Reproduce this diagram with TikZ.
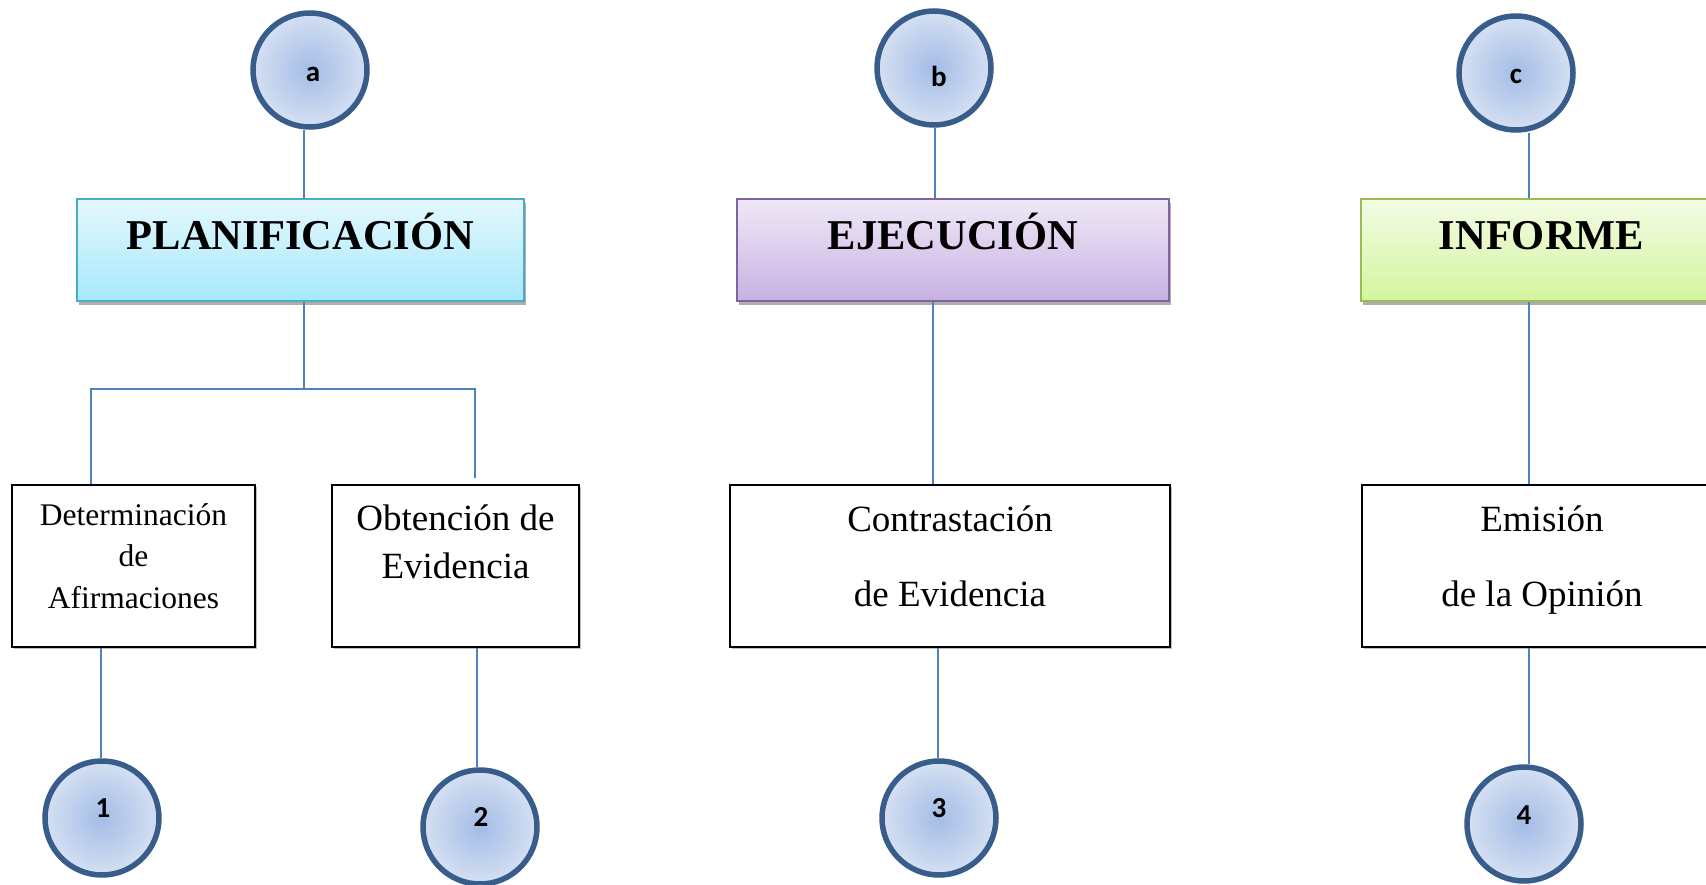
\documentclass[tikz,border=0pt]{standalone}
\usepackage{fontspec}
\setmainfont{Liberation Serif}
\newfontfamily\calfont{Carlito}
\usetikzlibrary{shadows}
\definecolor{conncol}{HTML}{4F81BD}
\definecolor{circborder}{HTML}{385D8A}
\definecolor{circin}{HTML}{A3BCE6}
\definecolor{circout}{HTML}{D5E0F2}
\definecolor{pltop}{HTML}{E4F8FD}
\definecolor{plbot}{HTML}{A6E8FB}
\definecolor{plborder}{HTML}{4BACC6}
\definecolor{ejtop}{HTML}{EFE8F7}
\definecolor{ejbot}{HTML}{C8B1E2}
\definecolor{ejborder}{HTML}{8064A2}
\definecolor{intop}{HTML}{F3FBE4}
\definecolor{inbot}{HTML}{D3F59E}
\definecolor{inborder}{HTML}{9BBB59}
\begin{document}
\begin{tikzpicture}[x=1pt,y=-1pt,
  conn/.style={draw=conncol, line width=2pt},
  circ/.style={circle, draw=circborder, line width=5.5pt, inner color=circin, outer color=circout, minimum size=114pt, inner sep=0pt},
  clabel/.style={font=\calfont\bfseries\fontsize{29}{29}\selectfont, inner sep=0pt, text=black},
  head/.style={rectangle, line width=1.5pt, minimum height=102pt, inner sep=0pt, text height=30pt, text depth=30pt,
    font=\bfseries\fontsize{42.5}{42.5}\selectfont,
    drop shadow={shadow xshift=2pt, shadow yshift=-4pt, fill=black!70, opacity=0.45}},
  lbox/.style={rectangle, draw=black, line width=1.2pt, fill=white, inner sep=0pt, minimum height=162pt,
    drop shadow={shadow xshift=1.5pt, shadow yshift=-1.5pt, fill=black!50, opacity=0.5}},
  ltext/.style={anchor=base, inner sep=0pt, font=\fontsize{37}{37}\selectfont},
  stext/.style={anchor=base, inner sep=0pt, font=\fontsize{31.5}{31.5}\selectfont},
]
\useasboundingbox (0,0) rectangle (1706,885);
\fill[white] (0,0) rectangle (1706,885);

% circles
\node[circ, label={[clabel,xshift=3pt,yshift=-4pt]center:a}] (a) at (310,70) {};
\node[circ, label={[clabel,xshift=5pt,yshift=-8pt]center:b}] (b) at (934,68) {};
\node[circ, label={[clabel,yshift=-3pt]center:c}] (c) at (1516,73) {};
\node[circ, label={[clabel,xshift=1pt,yshift=10pt]center:1}] (n1) at (102,818) {};
\node[circ, label={[clabel,xshift=1pt,yshift=10pt]center:2}] (n2) at (480,827) {};
\node[circ, label={[clabel,yshift=10pt]center:3}] (n3) at (939,818) {};
\node[circ, label={[clabel,yshift=9pt]center:4}] (n4) at (1524,824) {};

% headers
\node[head, draw=plborder, top color=pltop, bottom color=plbot, minimum width=447pt] (plan) at (300.5,250) {PLANIFICACIÓN};
\node[head, draw=ejborder, top color=ejtop, bottom color=ejbot, minimum width=432pt] (eje) at (953,250) {EJECUCIÓN};
\node[head, draw=inborder, top color=intop, bottom color=inbot, minimum width=361pt] (inf) at (1541.5,250) {INFORME};

% lower boxes
\node[lbox, minimum width=243pt] (det) at (133.5,566) {};
\node[lbox, minimum width=247pt] (obt) at (455.5,566) {};
\node[lbox, minimum width=440pt] (con) at (950,566) {};
\node[lbox, minimum width=360pt] (emi) at (1542,566) {};

% texts
\node[stext] (det1) at (133.5,525) {Determinación};
\node[stext] (det2) at (133.5,566) {de};
\node[stext] (det3) at (133.5,608) {Afirmaciones};
\node[ltext] (obt1) at (455.5,530) {Obtención de};
\node[ltext] (obt2) at (455.5,578) {Evidencia};
\node[ltext] (con1) at (950,531) {Contrastación};
\node[ltext] (con2) at (950,606) {de Evidencia};
\node[ltext] (emi1) at (1542,531) {Emisión};
\node[ltext] (emi2) at (1542,606) {de la Opinión};

% connector coordinates
\coordinate (xa) at (304,0);
\coordinate (brl) at (91,389);
\coordinate (brr) at (475,389);
\coordinate (obtend) at (475,478);
\coordinate (x1) at (101,0);
\coordinate (x2) at (477,0);
\coordinate (xb) at (935,0);
\coordinate (xe) at (933,0);
\coordinate (x3) at (938,0);
\coordinate (xc) at (1529,0);

\draw[conn] (xa |- a.south) -- (xa |- plan.north);
\draw[conn] (xa |- plan.south) -- (xa |- brl);
\draw[conn] (brl |- det.north) -- (brl) -- (brr) -- (obtend);
\draw[conn] (x1 |- det.south) -- (x1 |- n1.north);
\draw[conn] (x2 |- obt.south) -- (x2 |- n2.north);
\draw[conn] (xb |- b.south) -- (xb |- eje.north);
\draw[conn] (xe |- eje.south) -- (xe |- con.north);
\draw[conn] (x3 |- con.south) -- (x3 |- n3.north);
\draw[conn] (xc |- c.south) -- (xc |- inf.north);
\draw[conn] (xc |- inf.south) -- (xc |- emi.north);
\draw[conn] (xc |- emi.south) -- (xc |- n4.north);
\end{tikzpicture}
\end{document}
